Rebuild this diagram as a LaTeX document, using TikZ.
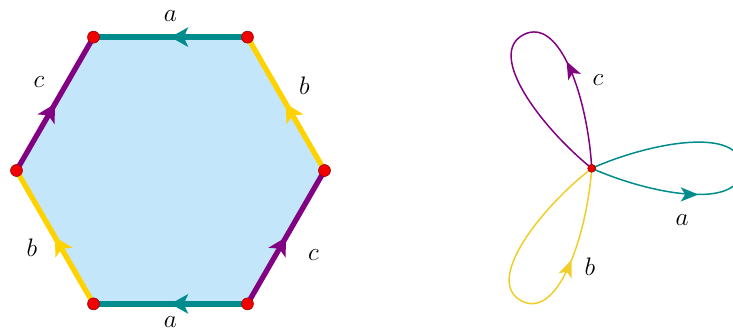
\documentclass[tikz,border=0pt]{standalone}
\usepackage{amsmath,amssymb}
\usepackage{xcolor}
\usepackage{tikz}
\usetikzlibrary{arrows.meta,decorations.markings,calc}
\definecolor{EdgeTeal}{RGB}{0,140,140}
\definecolor{EdgePurple}{RGB}{130,0,130}
\definecolor{EdgeYellow}{RGB}{255,210,0}
\definecolor{LoopYellow}{RGB}{240,205,40}
\definecolor{FaceBlue}{RGB}{195,230,250}
\definecolor{DotRed}{RGB}{240,0,0}
\tikzset{
  hexedge/.style={line width=3pt, postaction={decorate},
    decoration={markings, mark=at position 0.5 with {\arrow{Stealth[length=10pt,width=11pt,inset=2.5pt]}}}},
  loopedge/.style={line width=0.85pt, postaction={decorate},
    decoration={markings, mark=at position #1 with {\arrow{Stealth[length=10pt,width=8pt,inset=2.5pt]}}}},
  vdot/.style={circle, fill=DotRed, draw=DotRed!60!black, line width=0.3pt, minimum size=0.24cm, inner sep=0pt},
  cdot/.style={vdot, minimum size=0.16cm},
  lbl/.style={font=\Large, text=black, inner sep=0pt},
}

\begin{document}
\begin{tikzpicture}
  \clip (0,0) rectangle (14.66,6.66);
  % hexagon with glued edges
  \begin{scope}[shift={(3.41,3.25)}]
    \foreach \i in {0,...,5}
      \coordinate (p\i) at ({60*\i}:3.08);
    \fill[FaceBlue] (p0) -- (p1) -- (p2) -- (p3) -- (p4) -- (p5) -- cycle;
    \draw[hexedge, EdgeTeal] (p1) -- node[lbl, yshift=0.42cm] {$a$} (p2);
    \draw[hexedge, EdgeTeal] (p5) -- node[lbl, yshift=-0.36cm] {$a$} (p4);
    \draw[hexedge, EdgePurple] (p3) -- node[lbl, xshift=-0.32cm, yshift=0.44cm] {$c$} (p2);
    \draw[hexedge, EdgeYellow] (p4) -- node[lbl, xshift=-0.46cm, yshift=-0.21cm] {$b$} (p3);
    \draw[hexedge, EdgeYellow] (p0) -- node[lbl, xshift=0.37cm, yshift=0.36cm] {$b$} (p1);
    \draw[hexedge, EdgePurple] (p5) -- node[lbl, xshift=0.55cm, yshift=-0.35cm] {$c$} (p0);
    \foreach \i in {0,...,5}
      \node[vdot] (v\i) at (p\i) {};
  \end{scope}
  % bouquet of three circles
  \coordinate (base) at (11.834,3.294);
  \foreach \ang/\col/\pos in {0/EdgeTeal/0.33, 117/EdgePurple/0.33, -118/LoopYellow/0.72}
    \draw[loopedge=\pos, \col, shift={(base)}, rotate=\ang]
      (0,0) .. controls (-24:1.3) and (3.0,-0.85) .. (3.0,0)
            .. controls (3.0,0.85) and (24:1.3) .. (0,0);
  \node[cdot] (bdot) at (base) {};
  \node[lbl] (la) at (13.64,2.26) {$a$};
  \node[lbl] (lb) at (11.80,1.32) {$b$};
  \node[lbl] (lc) at (11.96,5.06) {$c$};
\end{tikzpicture}
\end{document}
